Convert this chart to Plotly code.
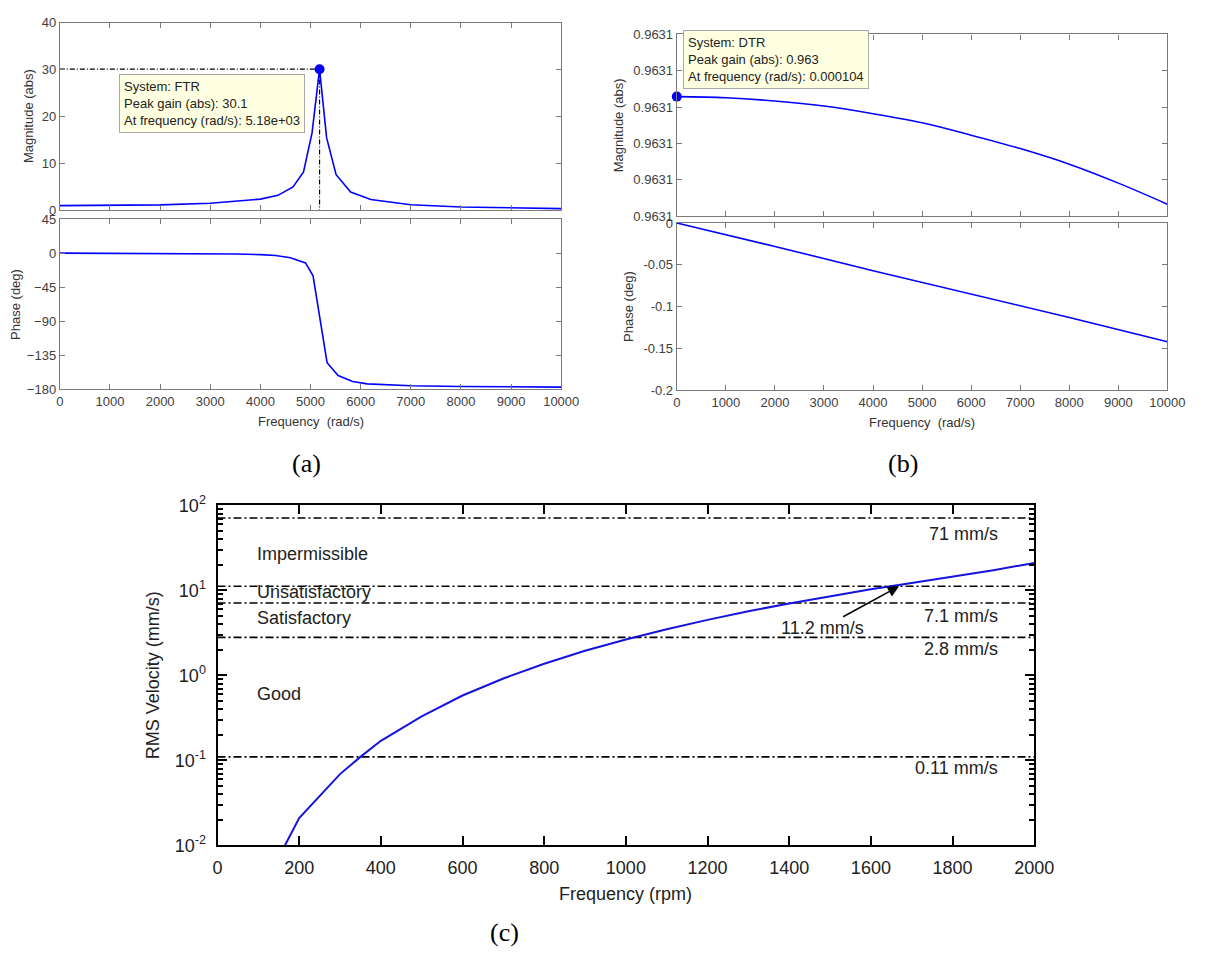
import plotly.graph_objects as go
import numpy as np

# ---------------- data ----------------
# (a) FTR Bode
freq_a_mag = [0, 1000, 2000, 3000, 4000, 4350, 4650, 4860, 5030, 5180, 5320, 5510, 5800, 6200, 7000, 8000, 9000, 10000]
mag_a = [1.0, 1.04, 1.17, 1.5, 2.4, 3.2, 5.0, 8.2, 16.5, 30.1, 15.5, 7.6, 3.9, 2.3, 1.2, 0.72, 0.48, 0.37]
freq_a_phase = [0, 1000, 2000, 3000, 3500, 4000, 4300, 4600, 4900, 5050, 5330, 5550, 5840, 6130, 7000, 8000, 9000, 10000]
phase_a = [0, -0.1, -0.3, -0.7, -1.1, -2.0, -3.2, -6.0, -13.0, -30.0, -145.0, -162.0, -170.0, -173.0, -175.5, -176.5, -177.0, -177.3]
peak_a_freq = 5180
peak_a_gain = 30.1
mag_a_ticks = [0, 10, 20, 30, 40]
phase_a_ticks = [-180, -135, -90, -45, 0, 45]
freq_ticks = [0, 1000, 2000, 3000, 4000, 5000, 6000, 7000, 8000, 9000, 10000]
freq_ticktext = ["0", "1000", "2000", "3000", "4000", "5000", "6000", "7000", "8000", "9000", "10000"]

# (b) DTR Bode
freq_b = [0, 1000, 2000, 3000, 4000, 5000, 6000, 7000, 8000, 9000, 10000]
mag_b = [0.9631329, 0.9631326, 0.9631317, 0.9631303, 0.9631282, 0.9631257,
         0.9631223, 0.9631186, 0.9631143, 0.9631091, 0.9631033]
freq_b_phase = [0, 2000, 4000, 6000, 8000, 10000]
phase_b = [0, -0.028, -0.057, -0.085, -0.113, -0.142]
peak_b_freq = 0.000104
mag_b_ticks = [0.96310, 0.96311, 0.96312, 0.96313, 0.96314, 0.96315]
mag_b_ticktext = ["0.9631", "0.9631", "0.9631", "0.9631", "0.9631", "0.9631"]
phase_b_ticks = [-0.2, -0.15, -0.1, -0.05, 0]
phase_b_ticktext = ["-0.2", "-0.15", "-0.1", "-0.05", "0"]

# (c) RMS velocity vs rpm
rpm = [165, 200, 300, 350, 400, 500, 600, 700, 800, 900, 1000, 1100, 1200, 1300,
       1400, 1500, 1600, 1700, 1800, 1900, 2000]
vel = [0.01, 0.021, 0.069, 0.11, 0.17, 0.33, 0.58, 0.92, 1.37, 1.95, 2.65, 3.5, 4.5,
       5.7, 7.0, 8.5, 10.3, 12.2, 14.5, 17.3, 21.0]
rpm_span = [0, 2000]
thresholds = [71, 11.2, 7.1, 2.8, 0.11]
threshold_labels = ["71 mm/s", "7.1 mm/s", "2.8 mm/s", "0.11 mm/s"]
threshold_label_levels = [71, 7.1, 2.8, 0.11]
zone_labels = ["Impermissible", "Unsatisfactory", "Satisfactory", "Good"]
arrow_level = 11.2
arrow_rpm = 1669
arrow_text = "11.2 mm/s"
rpm_ticks = [0, 200, 400, 600, 800, 1000, 1200, 1400, 1600, 1800, 2000]
vel_ticks = [0.01, 0.1, 1, 10, 100]
vel_ticktext = ["10<sup>-2</sup>", "10<sup>-1</sup>", "10<sup>0</sup>", "10<sup>1</sup>", "10<sup>2</sup>"]
vel_minor_ticks = [m * 10.0 ** e for e in range(-2, 2) for m in range(2, 10)]

# ---------------- layout helpers ----------------
W, H = 1207, 958
def dx(a, b):
    return [a / W, b / W]
def dy(top, bottom):
    return [1 - bottom / H, 1 - top / H]
def px(x):
    return x / W
def py(y):
    return 1 - y / H

BLUE = "#0000FF"
SANS = "Liberation Sans, Arial, sans-serif"
SERIF = "Liberation Serif, Times New Roman, serif"
GRAY = "#7a7a7a"
TXT = "#404040"

fig = go.Figure()

# (a) magnitude
fig.add_trace(go.Scatter(x=freq_a_mag, y=mag_a, xaxis="x", yaxis="y", mode="lines",
                         line=dict(color=BLUE, width=1.6)))
fig.add_trace(go.Scatter(x=[0, peak_a_freq, peak_a_freq], y=[peak_a_gain, peak_a_gain, 0],
                         xaxis="x", yaxis="y", mode="lines",
                         line=dict(color="black", width=1.2, dash="5px,2px,1px,2px")))
fig.add_trace(go.Scatter(x=[peak_a_freq], y=[peak_a_gain], xaxis="x", yaxis="y", mode="markers",
                         marker=dict(color=BLUE, size=10), cliponaxis=False))
# (a) phase
fig.add_trace(go.Scatter(x=freq_a_phase, y=phase_a, xaxis="x2", yaxis="y2", mode="lines",
                         line=dict(color=BLUE, width=1.6)))
# (b) magnitude
fig.add_trace(go.Scatter(x=freq_b, y=mag_b, xaxis="x3", yaxis="y3", mode="lines",
                         line=dict(color=BLUE, width=1.6, shape="spline")))
fig.add_trace(go.Scatter(x=[peak_b_freq], y=[mag_b[0]], xaxis="x3", yaxis="y3", mode="markers",
                         marker=dict(color=BLUE, size=10), cliponaxis=False))
# (b) phase
fig.add_trace(go.Scatter(x=freq_b_phase, y=phase_b, xaxis="x4", yaxis="y4", mode="lines",
                         line=dict(color=BLUE, width=1.6)))
# (c) threshold lines
for lvl in thresholds:
    fig.add_trace(go.Scatter(x=rpm_span, y=[lvl, lvl], xaxis="x5", yaxis="y5", mode="lines",
                             line=dict(color="black", width=1.6, dash="8px,3px,2px,3px")))
# (c) curve
fig.add_trace(go.Scatter(x=rpm, y=vel, xaxis="x5", yaxis="y5", mode="lines",
                         line=dict(color="#1414dc", width=2)))
# invisible carriers so the minor-tick overlay axes get drawn
for ya in ["y6", "y7"]:
    fig.add_trace(go.Scatter(x=rpm, y=vel, xaxis="x5", yaxis=ya, mode="lines",
                             line=dict(width=0, color="rgba(0,0,0,0)"), hoverinfo="skip"))

small_axis = dict(showgrid=False, zeroline=False, showline=True, linecolor=GRAY, linewidth=1.2,
                  mirror="ticks", ticks="inside", ticklen=5, tickwidth=1.2, tickcolor=GRAY,
                  tickfont=dict(family=SANS, size=13, color=TXT))
big_axis = dict(showgrid=False, zeroline=False, showline=True, linecolor="black", linewidth=2,
                mirror="ticks", ticks="inside", ticklen=9, tickwidth=2, tickcolor="black",
                tickfont=dict(family=SANS, size=18, color="#222"))
minor_axis = dict(type="log", range=[-2, 2], tickvals=vel_minor_ticks, showticklabels=False,
                  showgrid=False, zeroline=False, showline=False, ticks="inside", ticklen=5,
                  tickwidth=1.5, tickcolor="black", anchor="x5", overlaying="y5",
                  domain=dy(505, 853))

fig.update_layout(
    width=W, height=H, margin=dict(l=0, r=0, t=0, b=0),
    paper_bgcolor="white", plot_bgcolor="white", showlegend=False,
    xaxis=dict(domain=dx(56, 568), anchor="y", range=[0, 10000], tickvals=freq_ticks,
               showticklabels=False, **small_axis),
    yaxis=dict(domain=dy(11, 203), anchor="x", range=[0, 40], tickvals=mag_a_ticks, **small_axis),
    xaxis2=dict(domain=dx(56, 568), anchor="y2", range=[0, 10000], tickvals=freq_ticks,
                ticktext=freq_ticktext, **small_axis),
    yaxis2=dict(domain=dy(212, 386), anchor="x2", range=[-180, 45], tickvals=phase_a_ticks, **small_axis),
    xaxis3=dict(domain=dx(686, 1187), anchor="y3", range=[0, 10000], tickvals=freq_ticks,
                showticklabels=False, **small_axis),
    yaxis3=dict(domain=dy(23, 209), anchor="x3", range=[mag_b_ticks[0], mag_b_ticks[-1]],
                tickvals=mag_b_ticks, ticktext=mag_b_ticktext, **small_axis),
    xaxis4=dict(domain=dx(686, 1187), anchor="y4", range=[0, 10000], tickvals=freq_ticks,
                ticktext=freq_ticktext, **small_axis),
    yaxis4=dict(domain=dy(216, 387), anchor="x4", range=[-0.2, 0], tickvals=phase_b_ticks,
                ticktext=phase_b_ticktext, **small_axis),
    xaxis5=dict(domain=dx(217, 1051), anchor="y5", range=[0, 2000], tickvals=rpm_ticks,
                ticklabelstandoff=5, **big_axis),
    yaxis5=dict(domain=dy(505, 853), anchor="x5", type="log", range=[-2, 2],
                tickvals=vel_ticks, ticktext=vel_ticktext, ticklabelstandoff=6, **big_axis),
    yaxis6=dict(side="left", **minor_axis),
    yaxis7=dict(side="right", **minor_axis),
)

C = dict(xanchor="center", yanchor="middle", xref="paper", yref="paper", showarrow=False)
ann = []
# axis titles (a),(b)
f13 = dict(family=SANS, size=13, color="#333")
ann.append(dict(text="Magnitude (abs)", x=px(24), y=py(107), textangle=-90, font=f13, **C))
ann.append(dict(text="Phase (deg)", x=px(10), y=py(299), textangle=-90, font=f13, **C))
ann.append(dict(text="Frequency  (rad/s)", x=px(312), y=py(419), font=f13, **C))
ann.append(dict(text="Magnitude (abs)", x=px(626), y=py(116), textangle=-90, font=f13, **C))
ann.append(dict(text="Phase (deg)", x=px(636), y=py(301), textangle=-90, font=f13, **C))
ann.append(dict(text="Frequency  (rad/s)", x=px(936), y=py(420), font=f13, **C))
# datatips
ann.append(dict(text="System: FTR<br>Peak gain (abs): %s<br>At frequency (rad/s): %.2e" % (peak_a_gain, peak_a_freq),
                x=px(116), y=py(63), xref="paper", yref="paper", xanchor="left", yanchor="top",
                align="left", showarrow=False, bgcolor="#FFFFE1", bordercolor="#A8A8A8",
                borderwidth=1, borderpad=4, font=dict(family=SANS, size=13, color="#222")))
ann.append(dict(text="System: DTR<br>Peak gain (abs): %.3g<br>At frequency (rad/s): %s" % (mag_b[0], format(peak_b_freq, "f")),
                x=px(692), y=py(18), xref="paper", yref="paper", xanchor="left", yanchor="top",
                align="left", showarrow=False, bgcolor="#FFFFE1", bordercolor="#A8A8A8",
                borderwidth=1, borderpad=4, font=dict(family=SANS, size=13, color="#222")))
# panel labels
for t, x, y in [("(a)", 308, 462), ("(b)", 917, 462), ("(c)", 510, 942)]:
    ann.append(dict(text=t, x=px(x), y=py(y), font=dict(family=SERIF, size=26, color="black"), **C))
# (c) axis titles
f18 = dict(family=SANS, size=18, color="#222")
ann.append(dict(text="Frequency (rpm)", x=px(634), y=py(903), font=f18, **C))
ann.append(dict(text="RMS Velocity (mm/s)", x=px(152), y=py(679), textangle=-90, font=f18, **C))
# (c) threshold labels
shifts = [-16, -13, -12, -11]
for t, lvl, s in zip(threshold_labels, threshold_label_levels, shifts):
    ann.append(dict(text=t, x=1915, y=np.log10(lvl), xref="x5", yref="y5", xanchor="right",
                    yanchor="middle", yshift=s, showarrow=False, font=f18))
# (c) zone labels
for t, yp in zip(zone_labels, [555, 594, 620, 698]):
    ann.append(dict(text=t, x=px(255), y=py(yp), xref="paper", yref="paper", xanchor="left",
                    yanchor="middle", showarrow=False, font=f18))
# arrow
ann.append(dict(text=arrow_text, x=arrow_rpm, y=np.log10(arrow_level), xref="x5", yref="y5",
                ax=-77, ay=42, showarrow=True, arrowhead=2, arrowsize=1.5, arrowwidth=1.5,
                arrowcolor="black", font=f18))

fig.update_layout(annotations=ann)

fig.write_html("out.html", config={"displayModeBar": False})
